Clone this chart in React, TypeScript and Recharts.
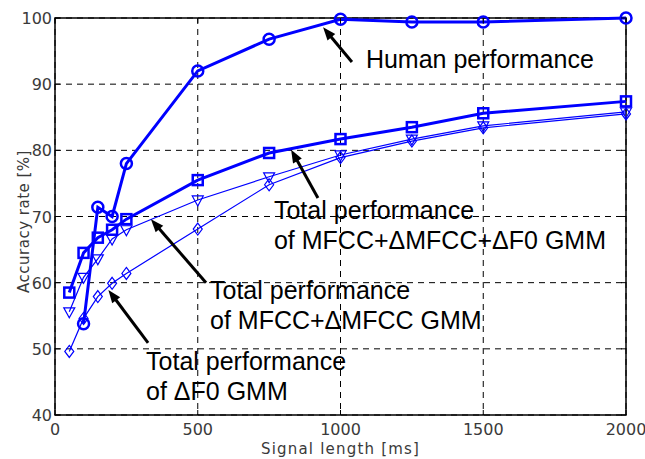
import React from 'react';
import {
  LineChart,
  Line,
  XAxis,
  YAxis,
  CartesianGrid,
  ReferenceArea,
  ReferenceLine,
  ReferenceDot,
} from 'recharts';

// signal length [ms] and accuracy [%] per series
const humanLength = [100, 150, 200, 250, 500, 750, 1000, 1250, 1500, 2000];
const humanAcc = [53.8, 71.4, 70.0, 78.0, 92.0, 96.8, 99.8, 99.4, 99.4, 100];

const modelLength = [50, 100, 150, 200, 250, 500, 750, 1000, 1250, 1500, 2000];
const allFeatAcc = [58.5, 64.5, 66.8, 68.0, 69.6, 75.5, 79.6, 81.7, 83.5, 85.6, 87.4];
const mfccAcc = [55.6, 60.8, 63.6, 66.6, 68.0, 72.5, 76.0, 79.3, 81.7, 83.7, 85.8];
const f0Acc = [49.6, 54.6, 57.9, 59.9, 61.4, 68.1, 74.8, 78.9, 81.4, 83.4, 85.5];

const xTicks = [0, 500, 1000, 1500, 2000];
const yTicks = [40, 50, 60, 70, 80, 90, 100];

// annotations: [tailX, tailY, headX, headY]
const arrows = [
  [1040, 93.35, 939, 98.6],
  [921, 72.8, 827, 80.1],
  [529, 60.0, 336, 69.6],
  [326, 50.9, 187, 58.9],
];

// text blocks: x, baseline y of first line, lines
const notes: { x: number; y: number; lines: string[] }[] = [
  { x: 1089, y: 92.45, lines: ['Human performance'] },
  { x: 767, y: 69.6, lines: ['Total performance', 'of MFCC+ΔMFCC+ΔF0 GMM'] },
  { x: 543, y: 57.6, lines: ['Total performance', 'of MFCC+ΔMFCC GMM'] },
  { x: 319, y: 46.8, lines: ['Total performance', 'of ΔF0 GMM'] },
];

const toRows = (xs: number[], ys: number[]) => xs.map((x, i) => ({ x, y: ys[i] }));

const humanData = toRows(humanLength, humanAcc);
const allFeatData = toRows(modelLength, allFeatAcc);
const mfccData = toRows(modelLength, mfccAcc);
const f0Data = toRows(modelLength, f0Acc);

const BLUE = '#0000ff';
const PLOT_TOP = 18;
const PLOT_BOTTOM = 415;
const PLOT_LEFT = 55;
const PLOT_RIGHT = 626;
const TICK_FONT = '"DejaVu Sans", sans-serif';
const NOTE_FONT = '"Liberation Sans", Arial, sans-serif';

const CircleDot = (p: any) =>
  p.cx == null ? null : (
    <circle key={p.index} cx={p.cx} cy={p.cy} r={5.5} fill="none" stroke={BLUE} strokeWidth={2.5} />
  );

const SquareDot = (p: any) =>
  p.cx == null ? null : (
    <rect key={p.index} x={p.cx - 5} y={p.cy - 5} width={10} height={10} fill="none" stroke={BLUE} strokeWidth={2.5} />
  );

const TriangleDot = (p: any) =>
  p.cx == null ? null : (
    <polygon
      key={p.index}
      points={`${p.cx - 5.5},${p.cy - 4} ${p.cx + 5.5},${p.cy - 4} ${p.cx},${p.cy + 6}`}
      fill="none"
      stroke={BLUE}
      strokeWidth={1.2}
    />
  );

const DiamondDot = (p: any) =>
  p.cx == null ? null : (
    <polygon
      key={p.index}
      points={`${p.cx},${p.cy - 6} ${p.cx + 4.5},${p.cy} ${p.cx},${p.cy + 6} ${p.cx - 4.5},${p.cy}`}
      fill="none"
      stroke={BLUE}
      strokeWidth={1.2}
    />
  );

const XTick = ({ x, payload }: any) => (
  <g>
    <line x1={x} y1={PLOT_BOTTOM} x2={x} y2={PLOT_BOTTOM - 5} stroke="#000" strokeWidth={1} />
    <line x1={x} y1={PLOT_TOP} x2={x} y2={PLOT_TOP + 5} stroke="#000" strokeWidth={1} />
    <text x={x} y={PLOT_BOTTOM + 20} textAnchor="middle" fontSize={16} fontFamily={TICK_FONT} fill="#3a3a3a">
      {payload.value}
    </text>
  </g>
);

const YTick = ({ y, payload }: any) => (
  <g>
    <line x1={PLOT_LEFT} y1={y} x2={PLOT_LEFT + 5} y2={y} stroke="#000" strokeWidth={1} />
    <line x1={PLOT_RIGHT} y1={y} x2={PLOT_RIGHT - 5} y2={y} stroke="#000" strokeWidth={1} />
    <text x={PLOT_LEFT - 3} y={y + 6} textAnchor="end" fontSize={16} fontFamily={TICK_FONT} fill="#3a3a3a">
      {payload.value}
    </text>
  </g>
);

const Arrow = (p: any) => {
  const { x1, y1, x2, y2 } = p;
  const dx = x2 - x1;
  const dy = y2 - y1;
  const len = Math.sqrt(dx * dx + dy * dy);
  const ux = dx / len;
  const uy = dy / len;
  const headL = 13;
  const headW = 5;
  const bx = x2 - ux * headL;
  const by = y2 - uy * headL;
  return (
    <g>
      <line x1={x1} y1={y1} x2={bx + ux * 2} y2={by + uy * 2} stroke="#000" strokeWidth={3} />
      <polygon
        points={`${x2},${y2} ${bx - uy * headW},${by + ux * headW} ${bx + uy * headW},${by - ux * headW}`}
        fill="#000"
      />
    </g>
  );
};

const Note = (lines: string[]) => (p: any) =>
  p.cx == null ? null : (
    <text x={p.cx} y={p.cy} fontSize={25} fontFamily={NOTE_FONT} fill="#000">
      {lines.map((l, i) => (
        <tspan key={i} x={p.cx} dy={i === 0 ? 0 : 30}>
          {l}
        </tspan>
      ))}
    </text>
  );

export default function App() {
  return (
    <div style={{ position: 'absolute', left: 0, top: 0, width: 645, height: 459, background: '#fff' }}>
      <LineChart
        width={645}
        height={459}
        margin={{ top: PLOT_TOP, right: 645 - PLOT_RIGHT, bottom: 14, left: 15 }}
      >
        <CartesianGrid stroke="#000" strokeWidth={1} strokeDasharray="6 5" />
        <XAxis
          type="number"
          dataKey="x"
          domain={[0, 2000]}
          ticks={xTicks}
          height={30}
          axisLine={false}
          tickLine={false}
          tickSize={0}
          tickMargin={0}
          tick={<XTick />}
          label={{
            value: 'Signal length [ms]',
            position: 'insideBottom',
            offset: -9,
            style: { fontFamily: TICK_FONT, fontSize: 15, letterSpacing: 1.2, fill: '#3a3a3a' },
          }}
        />
        <YAxis
          type="number"
          dataKey="y"
          domain={[40, 100]}
          ticks={yTicks}
          width={40}
          axisLine={false}
          tickLine={false}
          tickSize={0}
          tickMargin={0}
          tick={<YTick />}
          label={{
            value: 'Accuracy rate [%]',
            angle: -90,
            position: 'insideLeft',
            offset: 9,
            dy: 5,
            style: { textAnchor: 'middle', fontFamily: TICK_FONT, fontSize: 15, letterSpacing: 0.5, fill: '#3a3a3a' },
          }}
        />
        <ReferenceArea x1={0} x2={2000} y1={40} y2={100} fill="none" stroke="#000" strokeWidth={1.5} ifOverflow="visible" />

        <Line data={f0Data} dataKey="y" type="linear" stroke={BLUE} strokeWidth={1.2} dot={DiamondDot} isAnimationActive={false} />
        <Line data={mfccData} dataKey="y" type="linear" stroke={BLUE} strokeWidth={1.2} dot={TriangleDot} isAnimationActive={false} />
        <Line data={allFeatData} dataKey="y" type="linear" stroke={BLUE} strokeWidth={3} dot={SquareDot} isAnimationActive={false} />
        <Line data={humanData} dataKey="y" type="linear" stroke={BLUE} strokeWidth={3} dot={CircleDot} isAnimationActive={false} />

        {arrows.map((a, i) => (
          <ReferenceLine
            key={`arrow-${i}`}
            segment={[
              { x: a[0], y: a[1] },
              { x: a[2], y: a[3] },
            ]}
            shape={Arrow}
            ifOverflow="visible"
          />
        ))}
        {notes.map((n, i) => (
          <ReferenceDot key={`note-${i}`} x={n.x} y={n.y} r={0} shape={Note(n.lines)} ifOverflow="visible" />
        ))}
      </LineChart>
    </div>
  );
}
